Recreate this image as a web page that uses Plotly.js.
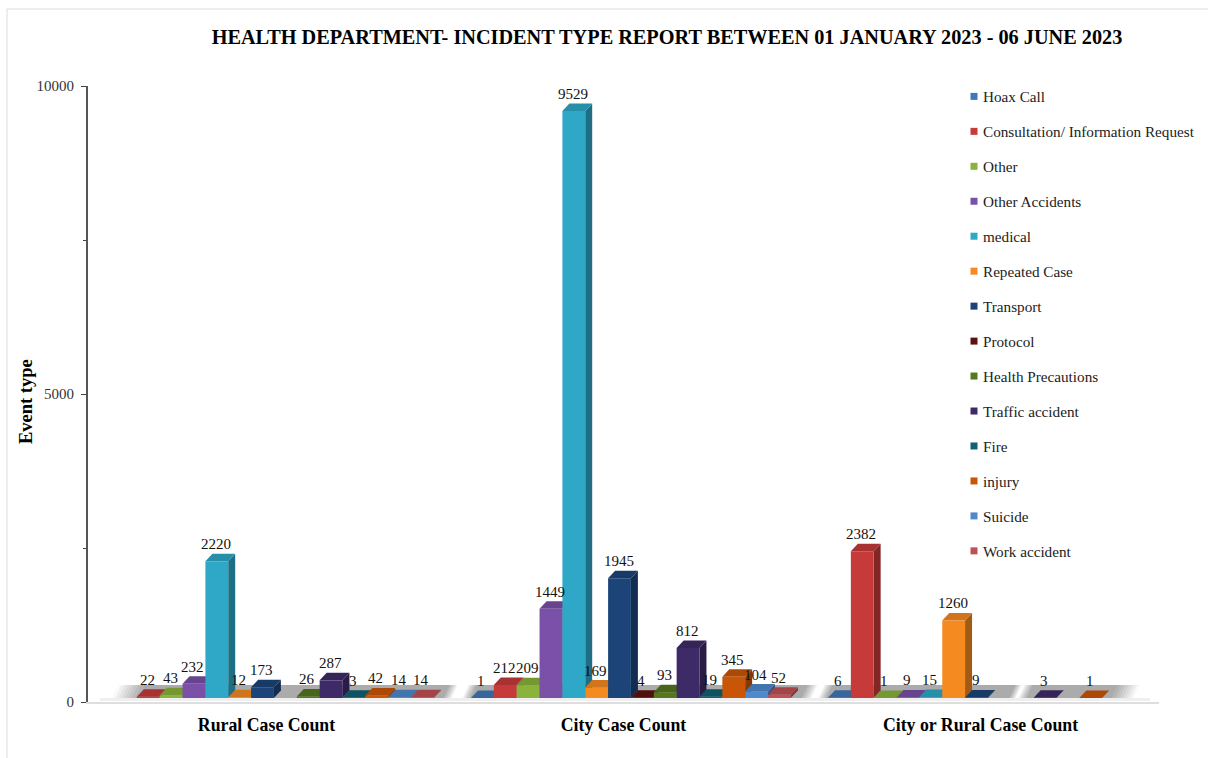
<!DOCTYPE html>
<html><head><meta charset="utf-8">
<script src="https://cdn.plot.ly/plotly-3.0.1.min.js"></script>
<style>html,body{margin:0;padding:0;background:#fff}#c{width:1208px;height:758px}</style></head>
<body><div id="c"></div>
<script>
const categories = ['Rural Case Count','City Case Count','City or Rural Case Count'];
const seriesNames = ['Hoax Call','Consultation/ Information Request','Other','Other Accidents','medical','Repeated Case','Transport','Protocol','Health Precautions','Traffic accident','Fire','injury','Suicide','Work accident'];
const hoaxCall = [null,1,6];
const consultation = [22,212,2382];
const other = [43,209,1];
const otherAccidents = [232,1449,9];
const medical = [2220,9529,15];
const repeatedCase = [12,169,1260];
const transport = [173,1945,9];
const protocol = [null,4,null];
const healthPrecautions = [26,93,null];
const trafficAccident = [287,812,3];
const fire = [3,19,null];
const injury = [42,345,1];
const suicide = [14,104,null];
const workAccident = [14,52,null];
const seriesValues = [hoaxCall,consultation,other,otherAccidents,medical,repeatedCase,transport,protocol,healthPrecautions,trafficAccident,fire,injury,suicide,workAccident];
const seriesColors = ['#3f78b8','#c63a3a','#8ab33c','#7a50a8','#2fa8c8','#f58a20','#1c4478','#5c1210','#55781f','#3f2a68','#0f6272','#c95606','#4f88cc','#c05055'];

// plot box: the axis itself runs from y=86 to y=702; the margin box starts higher so the legend can sit above it
const W=1208,H=758,L=88,R=1159,T=86,B=702,TOPBOX=70;
const plotH=B-TOPBOX;
const px=x=>(x-L)/(R-L), py=y=>(B-y)/plotH;
const step=(R-L)/3;
const wData=22.85/step, offData=26/step-0.5;
const serif='"Liberation Serif","Times New Roman",serif';
const DX=7,DY=7.5,PXPER=0.0616;

function shade(hex,f){const n=parseInt(hex.slice(1),16);
  const c=[n>>16,(n>>8)&255,n&255].map(v=>Math.round(v*f));
  return 'rgb('+c.join(',')+')';}

const traces=[],shapes=[],annotations=[];

// chart frame
shapes.push({type:'line',xref:'paper',yref:'paper',x0:px(7),x1:px(W),y0:py(9),y1:py(9),line:{color:'#dcdcdc',width:1},layer:'below'});
shapes.push({type:'line',xref:'paper',yref:'paper',x0:px(7),x1:px(7),y0:py(9),y1:py(H),line:{color:'#dcdcdc',width:1},layer:'below'});
// floor
function floor(x0,x1,fadeL,fadeR){
  const yb=698,yt=685,skew=6, n=8;
  const seg=(a,b,o)=>shapes.push({type:'path',xref:'paper',yref:'paper',layer:'below',line:{width:0},fillcolor:'rgba(150,150,150,'+o+')',
    path:`M${px(a)},${py(yb)} L${px(b)},${py(yb)} L${px(b+skew)},${py(yt)} L${px(a+skew)},${py(yt)} Z`});
  for(let i=0;i<n;i++){seg(x0+fadeL*i/n,x0+fadeL*(i+1)/n,0.8*(i+0.5)/n);}
  seg(x0+fadeL,x1-fadeR,0.8);
  for(let i=0;i<n;i++){seg(x1-fadeR*(i+1)/n,x1-fadeR*i/n,0.8*(i+0.5)/n);}
}
floor(112,452,26,8);
floor(462,812,8,10);
floor(818,1016,8,6);
floor(1018,1134,8,22);
// pale strip under the floor
shapes.push({type:'rect',xref:'paper',yref:'paper',layer:'below',line:{width:0},fillcolor:'#efefef',x0:px(100),x1:px(1150),y0:py(701),y1:py(698)});

seriesNames.forEach((name,s)=>{
  traces.push({type:'bar',name:name,x:categories,y:seriesValues[s],yaxis:'y2',xaxis:'x',
    offset:offData+s*wData,width:22.8/step,
    marker:{color:seriesColors[s],line:{width:0}},showlegend:false,hoverinfo:'name+y'});
  traces.push({type:'scatter',mode:'markers',name:name,x:[null],y:[null],legendgroup:name,
    marker:{symbol:'square',size:7,color:seriesColors[s]},hoverinfo:'skip',showlegend:true});
});
// depth faces + labels, left to right
categories.forEach((cat,c)=>{
  seriesNames.forEach((name,s)=>{
    const v=seriesValues[s][c];
    if(v===null) return;
    const left=c+offData+s*wData, right=left+22.8/step;
    const col=seriesColors[s];
    const hPx=v*PXPER;
    const common={type:'path',layer:'below',xref:'x',yref:'y2',xsizemode:'pixel',ysizemode:'pixel',line:{width:0}};
    shapes.push(Object.assign({},common,{xanchor:right,yanchor:v,fillcolor:shade(col,0.66),
      path:`M0,0 L${DX},${DY} L${DX},${DY-hPx} L0,${-hPx} Z`}));
    shapes.push(Object.assign({},common,{xanchor:left,yanchor:v,fillcolor:shade(col,0.85),
      path:`M0,0 L${DX},${DY} L${DX+22.8},${DY} L22.8,0 Z`}));
    annotations.push({x:left+wData/2,y:v,xref:'x',yref:'y2',text:String(v),showarrow:false,yanchor:'bottom',xanchor:'center',yshift:8,xshift:-1,
      font:{family:serif,size:15,color:'#111'},borderpad:0});
  });
});
annotations.push({xref:'paper',yref:'paper',x:px(26),y:py(402),xanchor:'center',yanchor:'middle',textangle:-90,showarrow:false,
  text:'<b>Event type</b>',font:{family:serif,size:18.5,color:'#000'}});

const layout={
  width:W,height:H,
  paper_bgcolor:'#fff',plot_bgcolor:'rgba(0,0,0,0)',
  margin:{l:L,r:W-R,t:TOPBOX,b:H-B,pad:0,autoexpand:false},
  barmode:'group',
  font:{family:serif,color:'#111'},
  title:{text:'<b>HEALTH DEPARTMENT- INCIDENT TYPE REPORT BETWEEN 01 JANUARY 2023 - 06 JUNE 2023</b>',
    font:{family:serif,size:20.27,color:'#000'},x:(212+1122)/2/W,xanchor:'center',y:1-37/H,yanchor:'middle'},
  xaxis:{type:'category',domain:[0,1],anchor:'y',range:[-0.5,2.5],categoryorder:'array',categoryarray:categories,
    showline:true,linecolor:'#dedede',linewidth:2,ticks:'',showgrid:false,zeroline:false,
    tickfont:{family:serif,size:17.8,color:'#000',weight:'bold'},ticklabelstandoff:6},
  yaxis:{domain:[0,py(T)],anchor:'x',range:[0,10000],tickmode:'linear',tick0:0,dtick:5000,
    minor:{dtick:2500,ticks:'outside',ticklen:3,tickcolor:'#444',tickwidth:1},
    ticks:'outside',ticklen:5,tickcolor:'#444',tickwidth:1,tickformat:'d',ticklabelstandoff:4,
    showline:true,linecolor:'#555',linewidth:2,showgrid:false,zeroline:false,
    tickfont:{family:serif,size:15,color:'#333'}},
  yaxis2:{domain:[py(698),py(T)],anchor:'x',range:[0,612/PXPER],visible:false},
  legend:{x:px(943),xanchor:'left',y:py(80),yanchor:'top',bgcolor:'rgba(0,0,0,0)',borderwidth:0,
    font:{family:serif,size:15.2,color:'#222'},tracegroupgap:12.2,itemwidth:30},
  shapes:shapes,annotations:annotations,showlegend:true
};
Plotly.newPlot('c',traces,layout,{displayModeBar:false,staticPlot:true}).then(gd=>{
  gd.querySelectorAll('.legend .legendpoints').forEach(n=>n.setAttribute('transform','translate(11,0)'));
});
</script></body></html>
